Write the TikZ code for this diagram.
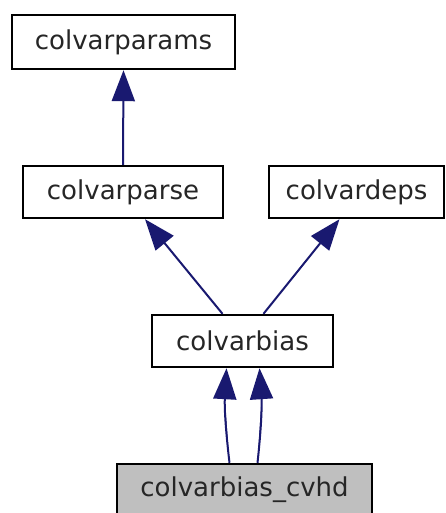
\documentclass[tikz,border=0pt]{standalone}
\usepackage{fontspec}
\setmainfont{DejaVu Sans}
\usetikzlibrary{arrows.meta}
\definecolor{edgeblue}{HTML}{191970}
\definecolor{boxgray}{HTML}{BFBFBF}
\tikzset{
  cls/.style={draw=black, line width=2.4pt, fill=white, inner sep=0pt, minimum height=52pt, font=\fontsize{26}{31}\selectfont, text=black!85},
  edge/.style={draw=edgeblue, line width=2pt, -{Triangle[length=31pt,width=23pt]}, fill=edgeblue}
}
\begin{document}
\begin{tikzpicture}[x=1pt,y=-1pt]
\useasboundingbox (0,0) rectangle (446,513);
\node[cls, minimum width=223pt, minimum height=54pt] (params) at (123.5,42) {colvarparams};
\node[cls, minimum width=200pt] (parse) at (123,192) {colvarparse};
\node[cls, minimum width=175pt] (deps) at (356.5,192) {colvardeps};
\node[cls, minimum width=181pt] (bias) at (242.5,341) {colvarbias};
\node[cls, minimum width=255pt, fill=boxgray] (cvhd) at (244.5,490) {colvarbias\_cvhd};
\draw[edge] (parse.north) -- (params.south);
\draw[edge] ([xshift=-20pt]bias.north) -- ([xshift=22pt]parse.south);
\draw[edge] ([xshift=21pt]bias.north) -- ([xshift=-17pt]deps.south);
\draw[edge] ([xshift=-15pt]cvhd.north) to[bend left=5] ([xshift=-16pt]bias.south);
\draw[edge] ([xshift=13pt]cvhd.north) to[bend right=5] ([xshift=17pt]bias.south);
\end{tikzpicture}
\end{document}
